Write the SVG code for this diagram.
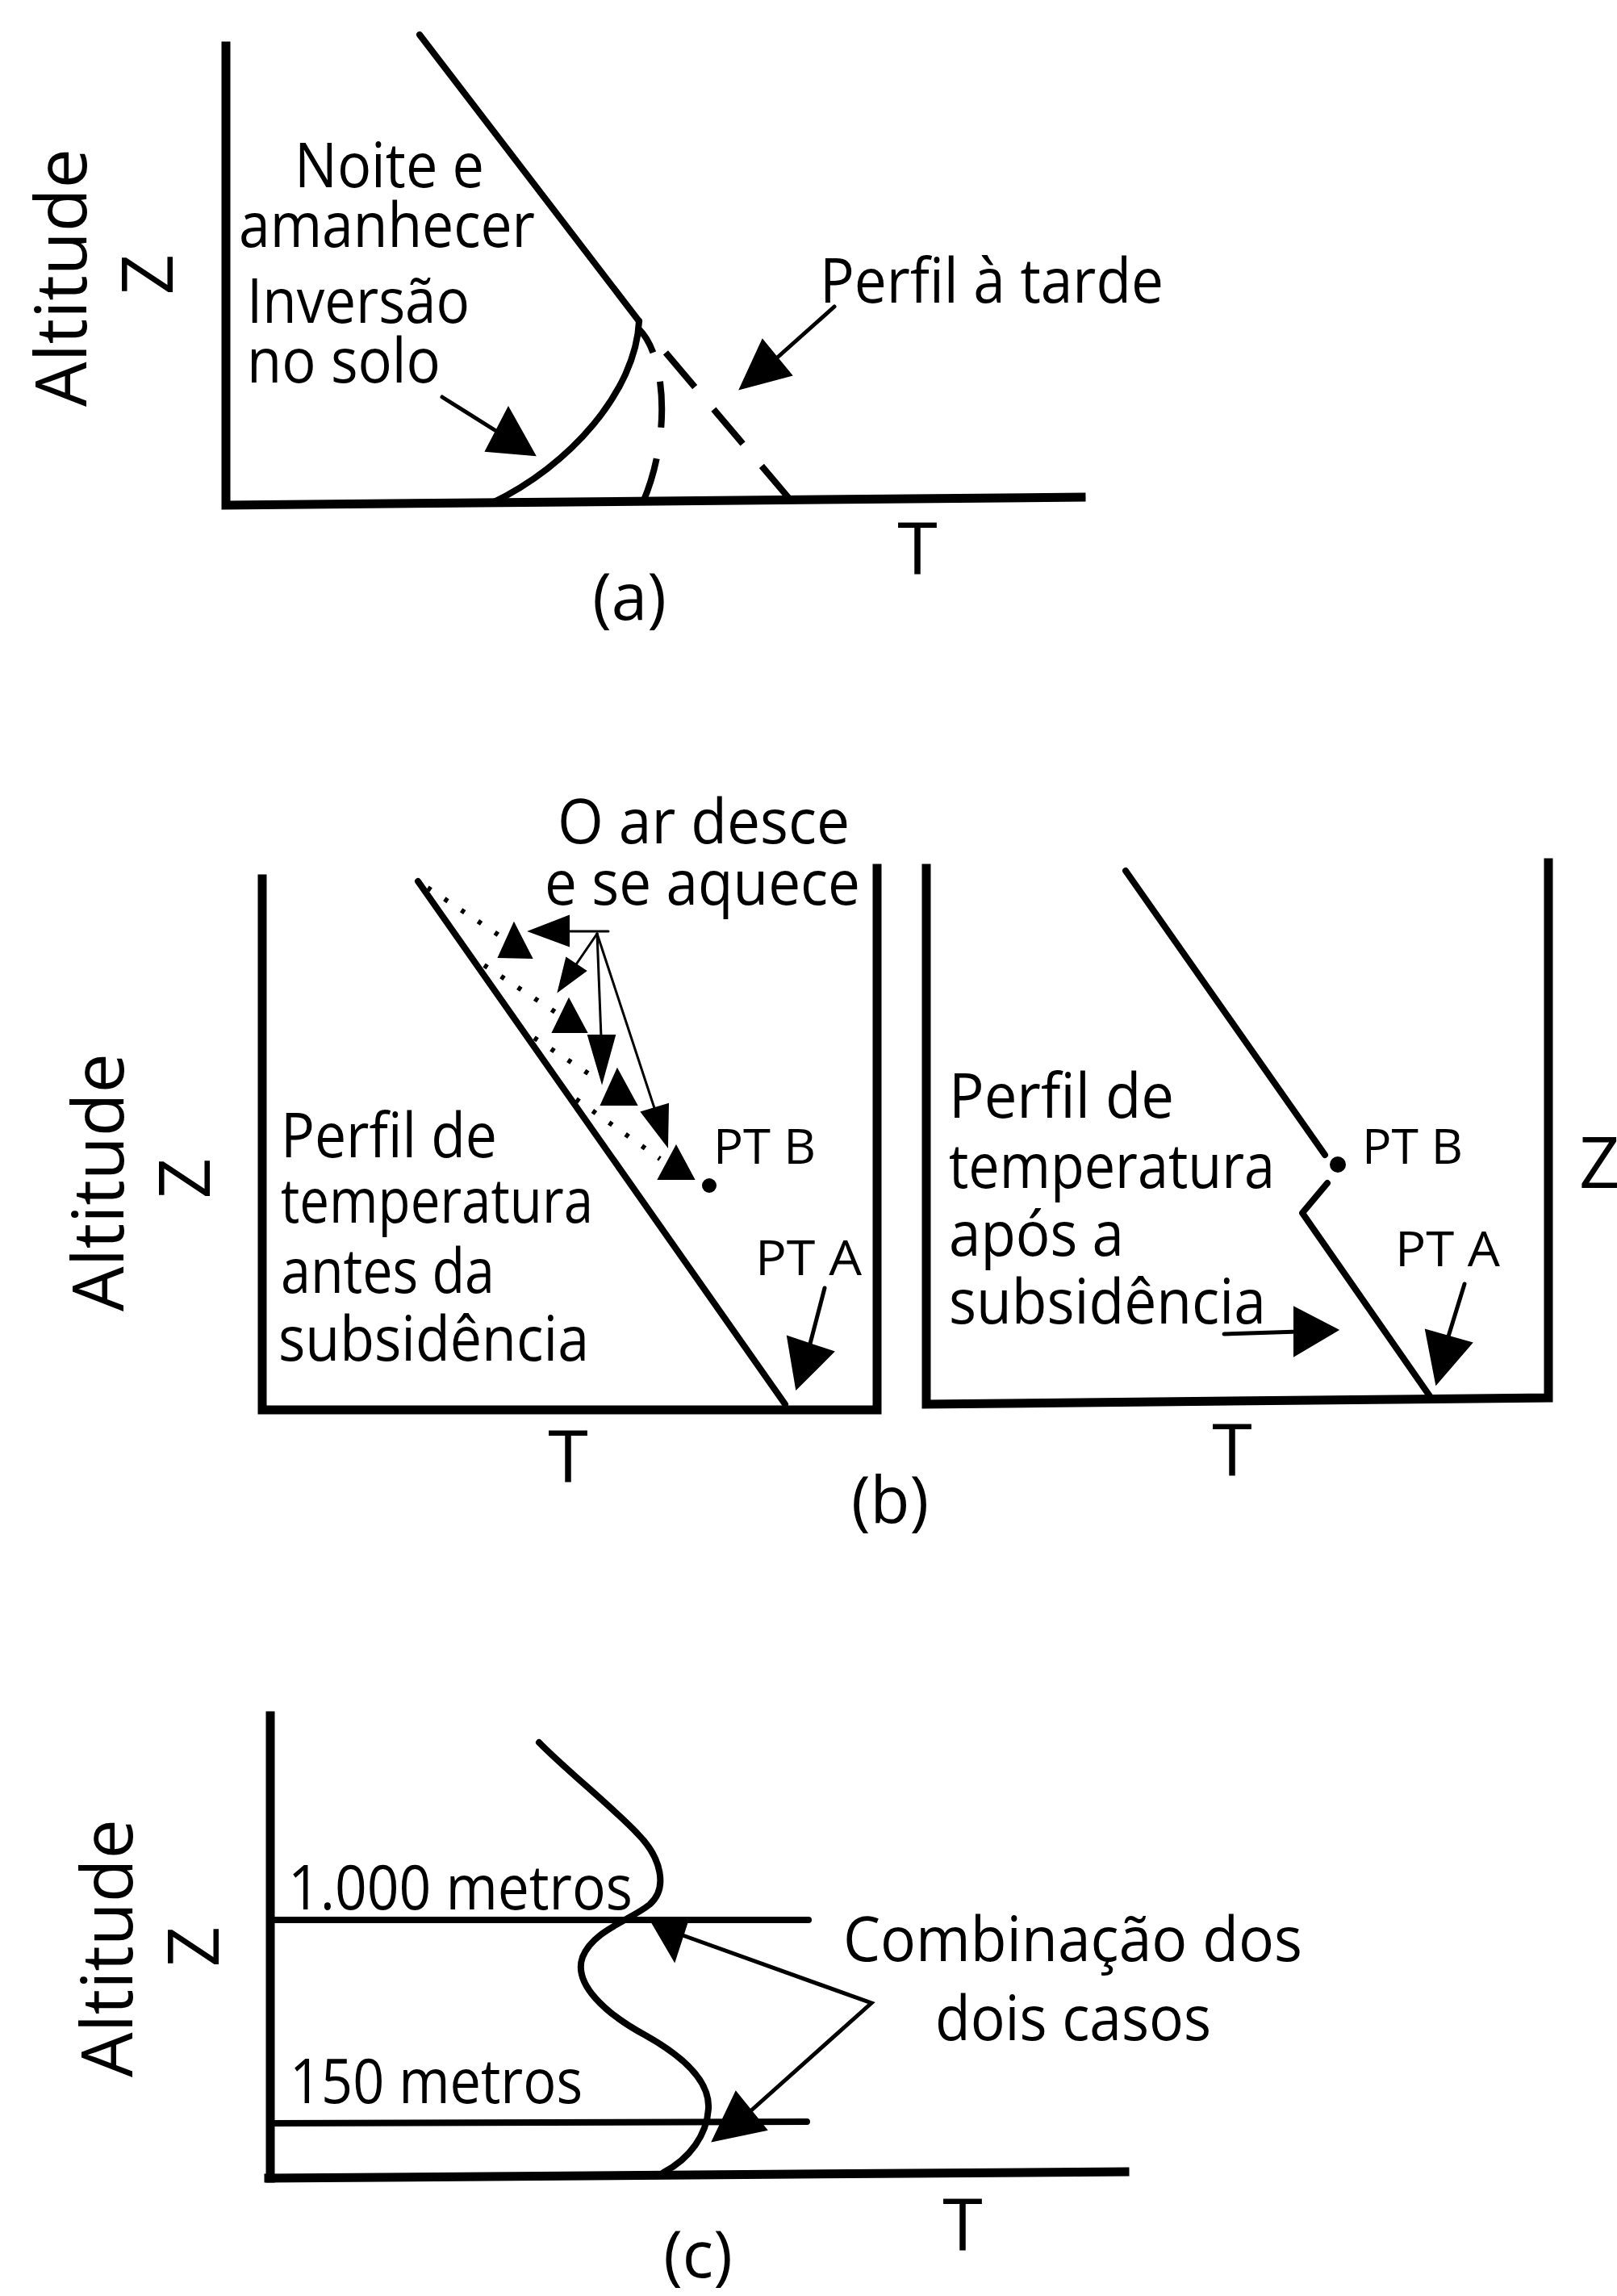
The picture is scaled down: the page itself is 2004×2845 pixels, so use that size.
<svg xmlns="http://www.w3.org/2000/svg" width="2004" height="2845" viewBox="0 0 2004 2845">
<style>
text{font-family:"Open Sans","Liberation Sans",sans-serif;fill:#000}
.lbl{font-size:76px}
.pt{font-size:60px}
.ax{font-size:88px}
.big{font-size:90px;text-anchor:middle}
.cap{font-size:80px;text-anchor:middle}
.axis{fill:none;stroke:#000;stroke-width:11;stroke-linecap:square}
.prof{fill:none;stroke:#000;stroke-width:8;stroke-linecap:round;stroke-linejoin:round}
.dash{fill:none;stroke:#000;stroke-width:8;stroke-linecap:butt}
.dot{fill:none;stroke:#000;stroke-width:6;stroke-dasharray:5 20;stroke-linecap:butt}
.shaft{fill:none;stroke:#000;stroke-width:5;stroke-linecap:round}
.thin{fill:none;stroke:#000;stroke-width:3;stroke-linecap:round}
.head{fill:#000;stroke:#000;stroke-width:2;stroke-linejoin:miter}
</style>
<rect width="2004" height="2845" fill="#fff"/>

<!-- Panel (a) -->
<g id="panel-a">
  <path class="axis" d="M280,57 L280,626 L1340,616"/>
  <path class="prof" d="M520,43 L792,398"/>
  <path class="prof" d="M792,398 C788,485 705,578 610,623"/>
  <path class="dash" d="M792,398 L980,620" stroke-dasharray="0 51 56 36 56 36 60"/>
  <path class="dash" d="M792,408 C825,440 832,540 797,622" stroke-dasharray="34 37 57 39 70"/>
  <text class="ax" transform="translate(107,344) rotate(-90)" text-anchor="middle">Altitude</text>
  <text class="ax" transform="translate(214,340) rotate(-90)" text-anchor="middle">Z</text>
  <text class="lbl" x="365" y="232" textLength="235" lengthAdjust="spacingAndGlyphs">Noite e</text>
  <text class="lbl" x="296" y="306" textLength="367" lengthAdjust="spacingAndGlyphs">amanhecer</text>
  <text class="lbl" x="306" y="400" textLength="276" lengthAdjust="spacingAndGlyphs">Inversão</text>
  <text class="lbl" x="306" y="474" textLength="240" lengthAdjust="spacingAndGlyphs">no solo</text>
  <text class="lbl" x="1016" y="375" textLength="426" lengthAdjust="spacingAndGlyphs">Perfil à tarde</text>
  <text class="big" x="1137" y="712">T</text>
  <text class="cap" x="780" y="768">(a)</text>
</g>

<!-- Panel (b) left -->
<g id="panel-b-left">
  <path class="axis" d="M325,1089 L325,1747 L1087,1747 L1087,1076"/>
  <path class="prof" d="M518,1092 L973,1740" stroke-width="10"/>
  <path class="dot" d="M530,1100 L620,1160"/>
  <path class="dot" d="M600,1196 L688,1254"/>
  <path class="dot" d="M662,1286 L738,1336"/>
  <path class="dot" d="M714,1362 L818,1436"/>
  <polygon class="head" points="637,1144 618,1186 659,1187"/>
  <polygon class="head" points="705,1238 685,1279 727,1279"/>
  <polygon class="head" points="765,1325 745,1369 789,1369"/>
  <polygon class="head" points="838,1420 816,1461 860,1461"/>
  <circle cx="879" cy="1469" r="9" fill="#000"/>
  <text class="ax" transform="translate(153,1465) rotate(-90)" text-anchor="middle">Altitude</text>
  <text class="ax" transform="translate(260,1460) rotate(-90)" text-anchor="middle">Z</text>
  <text class="lbl" x="691" y="1045" textLength="362" lengthAdjust="spacingAndGlyphs">O ar desce</text>
  <text class="lbl" x="675" y="1121" textLength="391" lengthAdjust="spacingAndGlyphs">e se aquece</text>
  <text class="lbl" x="348" y="1434" textLength="268" lengthAdjust="spacingAndGlyphs">Perfil de</text>
  <text class="lbl" x="348" y="1515" textLength="387" lengthAdjust="spacingAndGlyphs">temperatura</text>
  <text class="lbl" x="348" y="1602" textLength="265" lengthAdjust="spacingAndGlyphs">antes da</text>
  <text class="lbl" x="345" y="1686" textLength="385" lengthAdjust="spacingAndGlyphs">subsidência</text>
  <text class="pt" x="884" y="1442" textLength="127" lengthAdjust="spacingAndGlyphs">PT B</text>
  <text class="pt" x="936" y="1580" textLength="132" lengthAdjust="spacingAndGlyphs">PT A</text>
  <text class="big" x="704" y="1837">T</text>
</g>

<!-- Panel (b) right -->
<g id="panel-b-right">
  <path class="axis" d="M1148,1076 L1148,1740 L1919,1732 L1919,1069"/>
  <path class="prof" d="M1395,1079 L1642,1431" stroke-width="9"/>
  <path class="prof" d="M1645,1466 L1614,1503 L1772,1730" stroke-width="9"/>
  <circle cx="1658" cy="1443" r="10" fill="#000"/>
  <text class="lbl" x="1176" y="1385" textLength="279" lengthAdjust="spacingAndGlyphs">Perfil de</text>
  <text class="lbl" x="1176" y="1472" textLength="404" lengthAdjust="spacingAndGlyphs">temperatura</text>
  <text class="lbl" x="1176" y="1556" textLength="217" lengthAdjust="spacingAndGlyphs">após a</text>
  <text class="lbl" x="1176" y="1640" textLength="393" lengthAdjust="spacingAndGlyphs">subsidência</text>
  <text class="pt" x="1688" y="1442" textLength="125" lengthAdjust="spacingAndGlyphs">PT B</text>
  <text class="pt" x="1729" y="1569" textLength="130" lengthAdjust="spacingAndGlyphs">PT A</text>
  <text class="big" x="1527" y="1829">T</text>
  <text class="ax" x="1957" y="1472">Z</text>
  <text class="cap" x="1103" y="1887">(b)</text>
</g>

<!-- Panel (c) -->
<g id="panel-c">
  <path class="axis" d="M335,2126 L335,2699" stroke-width="8"/>
  <path class="axis" d="M333,2699 L1394,2691" stroke-width="14"/>
  <path class="prof" d="M335,2379 L1002,2379" stroke-width="8"/>
  <path class="prof" d="M335,2631 L1000,2629" stroke-width="8"/>
  <path class="prof" d="M668,2159 C700,2192 760,2240 790,2272 C820,2302 828,2340 805,2360 C780,2380 735,2392 722,2425 C710,2458 750,2495 800,2522 C850,2550 880,2580 878,2613 C876,2645 855,2675 822,2692"/>
  <text class="ax" transform="translate(164,2414) rotate(-90)" text-anchor="middle">Altitude</text>
  <text class="ax" transform="translate(271,2412) rotate(-90)" text-anchor="middle">Z</text>
  <text class="lbl" x="357" y="2366" textLength="427" lengthAdjust="spacingAndGlyphs">1.000 metros</text>
  <text class="lbl" x="359" y="2606" textLength="363" lengthAdjust="spacingAndGlyphs">150 metros</text>
  <text class="lbl" x="1045" y="2430" textLength="569" lengthAdjust="spacingAndGlyphs">Combinação dos</text>
  <text class="lbl" x="1159" y="2528" textLength="342" lengthAdjust="spacingAndGlyphs">dois casos</text>
  <text class="big" x="1193" y="2789">T</text>
  <text class="cap" x="865" y="2822" font-size="76">(c)</text>
</g>

<!-- Connectors (arrows) -->
<g id="connectors">
  <!-- (a) Inversão no solo -->
  <path class="shaft" d="M548,492 L618,536"/>
  <polygon class="head" points="663,564 630,505 602,559"/>
  <!-- (a) Perfil à tarde -->
  <path class="shaft" d="M1034,380 L960,446"/>
  <polygon class="head" points="917,482 945,421 981,465"/>
  <!-- (b) left: descending air arrows -->
  <path class="thin" d="M754,1154 L700,1154"/>
  <polygon class="head" points="656,1154 705,1135 705,1172"/>
  <path class="thin" d="M740,1157 L714,1195"/>
  <polygon class="head" points="692,1228 702,1187 726,1203"/>
  <path class="thin" d="M740,1157 L745,1285"/>
  <polygon class="head" points="746,1341 729,1283 762,1283"/>
  <path class="thin" d="M740,1157 L811,1373"/>
  <polygon class="head" points="827,1420 795,1378 828,1368"/>
  <!-- (b) left: PT A -->
  <path class="shaft" d="M1022,1596 L1004,1665"/>
  <polygon class="head" points="987,1721 976,1656 1033,1675"/>
  <!-- (b) right: subsidência -->
  <path class="shaft" d="M1517,1653 L1610,1650"/>
  <polygon class="head" points="1658,1648 1604,1620 1604,1680"/>
  <!-- (b) right: PT A -->
  <path class="shaft" d="M1815,1591 L1795,1656"/>
  <polygon class="head" points="1780,1715 1767,1648 1824,1664"/>
  <!-- (c) Combinação dos dois casos -->
  <path class="shaft" d="M846,2398 L1080,2482 L930,2616" stroke-linejoin="miter"/>
  <polygon class="head" points="805,2377 852,2381 836,2430"/>
  <polygon class="head" points="883,2653 912,2592 950,2639"/>
</g>
</svg>
